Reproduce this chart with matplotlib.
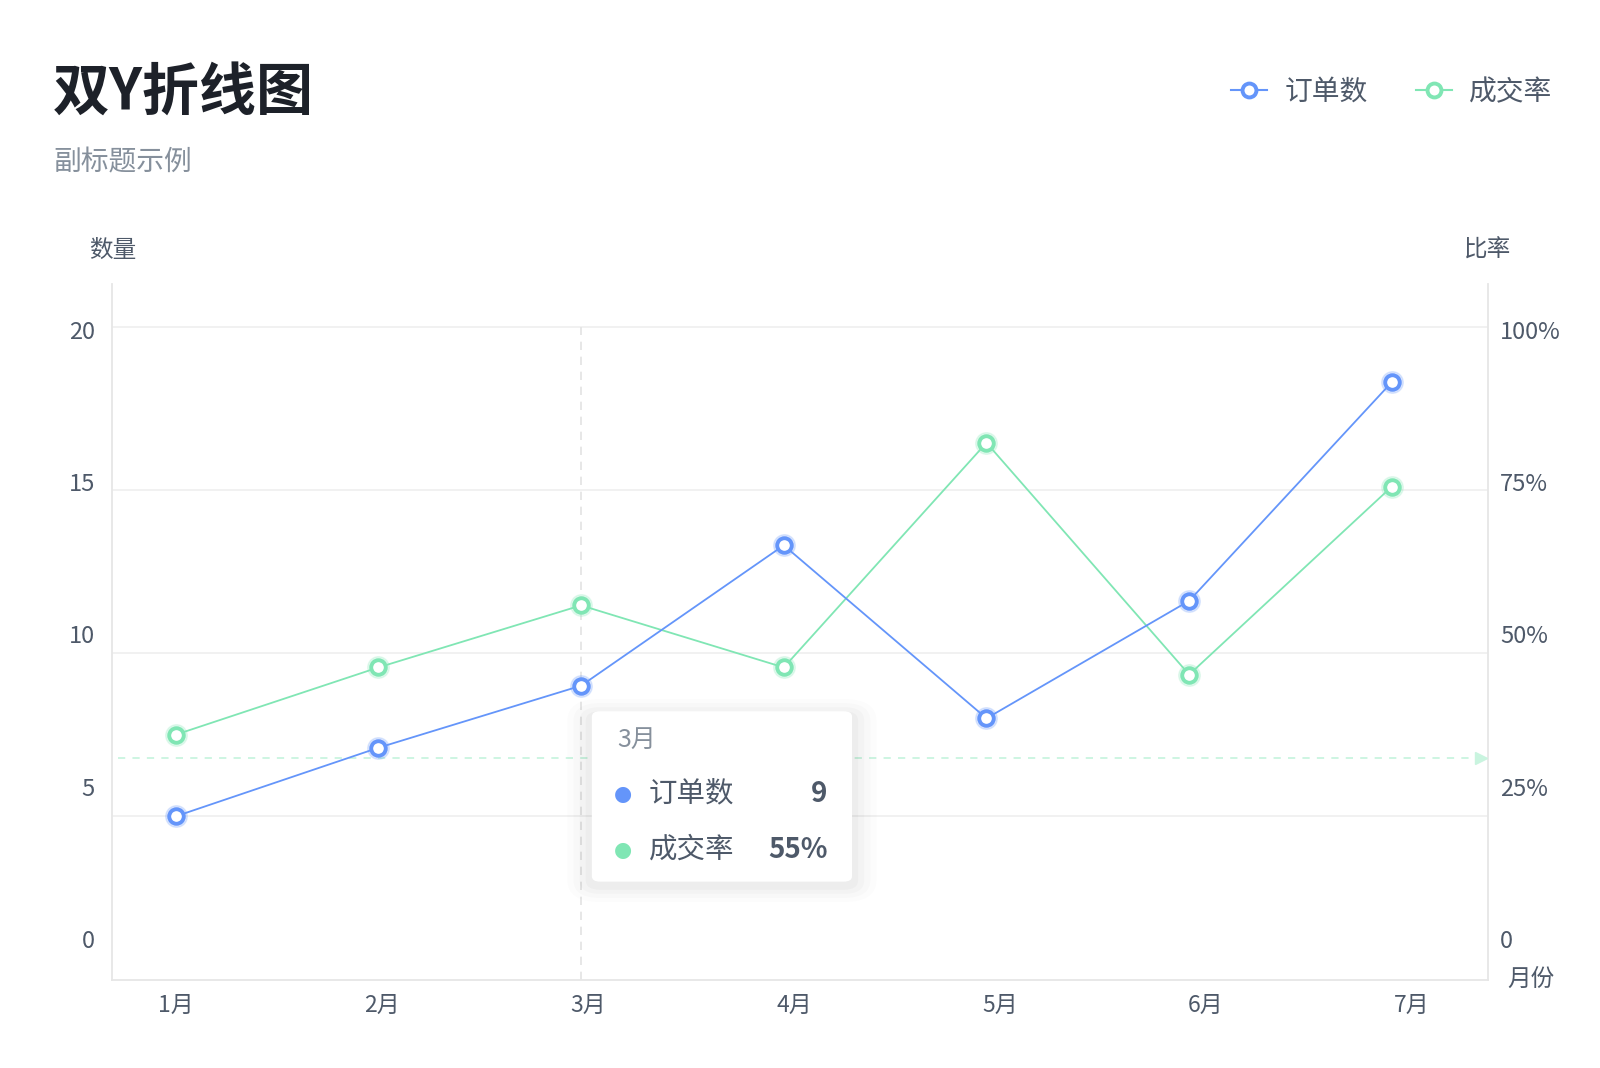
import numpy as np
import matplotlib
matplotlib.use("Agg")
import matplotlib.pyplot as plt
from matplotlib.lines import Line2D
from matplotlib.patches import FancyBboxPatch


# =========================================================
# DATA
# =========================================================

months = ["1月", "2月", "3月", "4月", "5月", "6月", "7月"]

orders = [5, 7.1, 9, 13.3, 8, 11.6, 18.3]

rates = [37.5, 47.8, 57.3, 47.8, 82.2, 46.7, 75.5]

left_ticks = [0, 5, 10, 15, 20]
right_ticks = [0, 25, 50, 75, 100]
right_tick_labels = ["0", "25%", "50%", "75%", "100%"]

# tooltip / crosshair state
hover_index = 2
hover_y = 6.8
tip_orders = "9"
tip_rate = "55%"


# =========================================================
# STYLE
# =========================================================

plt.rcParams["font.family"] = ["Noto Sans CJK SC", "DejaVu Sans"]

BLUE = "#6495fa"
GREEN = "#80e6b4"
GRID = "#ededed"
AXIS = "#e6e6e6"
TEXT = "#4e5969"
SUB = "#86909c"
TITLE = "#1d2129"

# layout measured on a 1568 wide view of the reference
W = 1568.0
H = 1068 * W / 1600

fig = plt.figure(figsize=(16, 10.68), dpi=100)


def fx(px):
    return px / W


def fy(py):
    return 1 - py / H


rect = [fx(110), fy(960), 1348 / W, (960 - 278) / H]

# ---------------------------------------------------------
# label axes (tick labels sit slightly off the grid, as in the reference)
# ---------------------------------------------------------

lab = fig.add_axes(rect, frameon=False)
lab.set_xlim(-0.307, 6.367)
lab.set_ylim(-1.34, 21.51)
lab.set_xticks(np.arange(len(months)))
lab.set_xticklabels(months)
lab.set_yticks(left_ticks)
lab.tick_params(length=0)
lab.tick_params(axis="x", pad=10, labelsize=16.5, labelcolor=TEXT)
lab.tick_params(axis="y", pad=12.5, labelsize=17, labelcolor=TEXT)

labr = lab.twinx()
labr.set_ylim(-6.7, 107.55)
labr.set_yticks(right_ticks)
labr.set_yticklabels(right_tick_labels)
labr.tick_params(length=0, pad=8.8, labelsize=17, labelcolor=TEXT)
for s in labr.spines.values():
    s.set_visible(False)

# ---------------------------------------------------------
# plot axes
# ---------------------------------------------------------

ax2 = fig.add_axes(rect)
ax = ax2.twinx()
ax.yaxis.tick_left()

x = np.arange(len(months))

for a in (ax, ax2):
    a.set_xlim(-0.313, 6.473)
    a.patch.set_visible(False)
    a.tick_params(length=0, labelleft=False, labelright=False,
                  labelbottom=False)
    for s in a.spines.values():
        s.set_visible(False)

ax.set_ylim(0, 21.3125)
ax2.set_ylim(0, 106.5625)

for s in ("left", "right", "bottom"):
    ax2.spines[s].set_visible(True)
    ax2.spines[s].set_color(AXIS)
    ax2.spines[s].set_linewidth(1.3)

# grid
for v in right_ticks[1:]:
    ax2.axhline(v, color=GRID, lw=1.1, zorder=0)

# crosshair
ax2.axvline(hover_index, ymin=0, ymax=100 / 106.5625, color="#e3e3e3",
            lw=1.2, ls=(0, (5, 4)), zorder=1)
ax.plot([0.004, 0.995], [hover_y, hover_y], color="#c9f4df", lw=1.3,
        ls=(0, (4, 4)), transform=ax.get_yaxis_transform(), zorder=1)
ax.plot([0.995], [hover_y], marker=">", color="#c9f4df", ms=8,
        transform=ax.get_yaxis_transform(), clip_on=False, zorder=1)

# rate line (right axis)
ax2.plot(x, rates, color=GREEN, lw=1.3, zorder=3)
ax2.plot(x, rates, ls="none", marker="o", ms=15.5, color=GREEN, alpha=0.2,
         zorder=3)
ax2.plot(x, rates, ls="none", marker="o", ms=10.5, mfc="white", mec=GREEN,
         mew=2.8, zorder=4)

# orders line (left axis)
ax.plot(x, orders, color=BLUE, lw=1.3, zorder=5)
ax.plot(x, orders, ls="none", marker="o", ms=15.5, color=BLUE, alpha=0.2,
        zorder=5)
ax.plot(x, orders, ls="none", marker="o", ms=10.5, mfc="white", mec=BLUE,
        mew=2.8, zorder=6)

# =========================================================
# TITLES / AXIS NAMES
# =========================================================

fig.text(fx(52), fy(91), "双Y折线图", fontsize=41, fontweight="bold",
         color=TITLE, va="center", ha="left")
fig.text(fx(52), fy(159), "副标题示例", fontsize=20, color=SUB,
         va="center", ha="left")

fig.text(fx(110), fy(245), "数量", fontsize=17, color=TEXT, ha="center",
         va="center")
fig.text(fx(1458), fy(245), "比率", fontsize=17, color=TEXT, ha="center",
         va="center")
fig.text(fx(1477), fy(960), "月份", fontsize=17, color=TEXT, ha="left",
         va="center")

# legend
handles = [
    Line2D([], [], color=BLUE, lw=1.5, marker="o", ms=10, mfc="white",
           mec=BLUE, mew=2.8),
    Line2D([], [], color=GREEN, lw=1.5, marker="o", ms=10, mfc="white",
           mec=GREEN, mew=2.8),
]
fig.legend(handles, ["订单数", "成交率"], loc="center right",
           bbox_to_anchor=(fx(1521), fy(90)), ncol=2, frameon=False,
           fontsize=20, labelcolor=TEXT, handlelength=1.3,
           handletextpad=0.6, columnspacing=1.75, borderpad=0,
           borderaxespad=0)

# =========================================================
# TOOLTIP
# =========================================================

bx0, by0, bx1, by1 = 580, 697, 835, 864
for i, al in enumerate([0.025, 0.02, 0.015, 0.01]):
    p = 6 + i * 6
    fig.patches.append(FancyBboxPatch(
        (fx(bx0), fy(by1 + 4)), fx(bx1 - bx0), (by1 - by0) / H,
        boxstyle=f"round,pad={p / W},rounding_size={(8 + p) / W}",
        transform=fig.transFigure, fc="black", ec="none", alpha=al,
        zorder=10))
fig.patches.append(FancyBboxPatch(
    (fx(bx0), fy(by1)), fx(bx1 - bx0), (by1 - by0) / H,
    boxstyle=f"round,pad=0,rounding_size={8 / W}",
    transform=fig.transFigure, fc="white", ec="none", zorder=11))

fig.text(fx(605), fy(725), months[hover_index], fontsize=18, color=SUB,
         va="center", ha="left", zorder=12)
fig.text(fx(611), fy(778), "●", fontsize=15, color=BLUE, va="center",
         ha="center", zorder=12, family=["DejaVu Sans"])
fig.text(fx(636), fy(778), "订单数", fontsize=20.5, color=TEXT, va="center",
         ha="left", zorder=12)
fig.text(fx(811), fy(778), tip_orders, fontsize=20, color=TEXT,
         fontweight="bold", va="center", ha="right", zorder=12)
fig.text(fx(611), fy(833), "●", fontsize=15, color=GREEN, va="center",
         ha="center", zorder=12, family=["DejaVu Sans"])
fig.text(fx(636), fy(833), "成交率", fontsize=20.5, color=TEXT, va="center",
         ha="left", zorder=12)
fig.text(fx(811), fy(833), tip_rate, fontsize=20, color=TEXT,
         fontweight="bold", va="center", ha="right", zorder=12)

fig.savefig("out.png", dpi=100, facecolor="white")
